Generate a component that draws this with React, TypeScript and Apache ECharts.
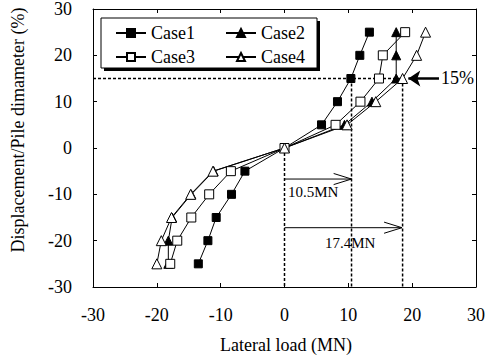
import React, { useEffect, useRef } from "react";
import * as echarts from "echarts";

// Displacement / pile diameter (%) levels, shared by every case
const displacementLevels = [-25, -20, -15, -10, -5, 0, 5, 10, 15, 20, 25];
// Lateral load (MN) per case, one per displacement level
const case1Load = [-13.5, -12.0, -10.7, -8.3, -6.2, 0, 5.8, 8.3, 10.4, 11.8, 13.3];
const case2Load = [-18.2, -18.2, -17.6, -14.6, -11.1, 0, 9.4, 13.7, 17.5, 17.5, 17.5];
const case3Load = [-17.9, -16.8, -14.6, -11.8, -8.4, 0, 8.0, 11.9, 14.8, 15.4, 18.9];
const case4Load = [-20.0, -19.3, -17.7, -14.7, -11.2, 0, 9.8, 14.3, 18.5, 20.7, 22.1];

// Reference (dashed) lines
const refLine15 = [[-30, 15], [18.5, 15]];
const refVertZero = [[0, 0], [0, -30]];
const refVert105 = [[10.5, 15], [10.5, -30]];
const refVert174 = [[18.5, 15], [18.5, -30]];

// Annotation arrows
const arrow105Shaft = [[0, -6.7], [10.5, -6.7]];
const arrow105Head = [[7.7, -5.5], [10.5, -6.7], [7.7, -7.9]];
const arrow174Shaft = [[0, -17.2], [18.4, -17.2]];
const arrow174Head = [[15.6, -16.0], [18.4, -17.2], [15.6, -18.4]];
const arrow15 = [[24.2, 15], [19.4, 15]];

const FONT = "Liberation Serif";

function caseSeries(name: string, loads: number[], symbol: string, filled: boolean, size: number) {
  return {
    name,
    type: "line",
    data: loads.map((x, i) => [x, displacementLevels[i]]),
    symbol,
    symbolSize: size,
    showSymbol: true,
    itemStyle: { color: filled ? "#000" : "#fff", borderColor: "#000", borderWidth: 1 },
    lineStyle: { color: "#000", width: 1 },
    z: 5,
  };
}

function plainLine(data: number[][], dashed: boolean, width: number) {
  return {
    type: "line",
    data,
    symbol: "none",
    silent: true,
    lineStyle: { color: "#000", width, type: dashed ? [3, 2] : "solid" },
    z: 3,
  };
}

export default function App() {
  const ref = useRef<HTMLDivElement>(null);
  useEffect(() => {
    if (!ref.current) return;
    const chart = echarts.init(ref.current, undefined, { renderer: "svg" });
    const labelStyle = { fontFamily: FONT, fontSize: 18, color: "#000" };
    const axisCommon = {
      type: "value",
      min: -30,
      max: 30,
      interval: 10,
      axisLine: { show: true, onZero: false, lineStyle: { color: "#000", width: 1 } },
      axisTick: { show: true, inside: true, length: 4, lineStyle: { color: "#000" } },
      splitLine: { show: false },
    };
    const legendCommon = {
      left: 115,
      padding: 0,
      itemWidth: 30,
      itemHeight: 10,
      itemGap: 30,
      textStyle: { ...labelStyle },
      selectedMode: false,
    };
    chart.setOption({
      animation: false,
      backgroundColor: "#fff",
      textStyle: { fontFamily: FONT },
      grid: { left: 93, right: 13, top: 6, bottom: 73 },
      xAxis: [
        { ...axisCommon, position: "bottom", axisLabel: { ...labelStyle, margin: 19 } },
        { ...axisCommon, position: "top", axisLabel: { show: false } },
      ],
      yAxis: [
        { ...axisCommon, position: "left", axisLabel: { ...labelStyle, margin: 21 } },
        { ...axisCommon, position: "right", axisLabel: { show: false } },
      ],
      legend: [
        { ...legendCommon, top: 24, data: ["Case1", "Case2"] },
        { ...legendCommon, top: 48, data: ["Case3", "Case4"] },
      ],
      graphic: [
        { type: "rect", shape: { x: 104, y: 21, width: 216, height: 50 }, style: { fill: "#000" }, z: 0 },
        { type: "rect", shape: { x: 101, y: 18, width: 216, height: 50 }, style: { fill: "#fff", stroke: "#000", lineWidth: 1 }, z: 1 },
        {
          type: "text",
          x: 18,
          y: 130,
          rotation: Math.PI / 2,
          style: { text: "Displacement/Pile dimameter (%)", font: `18px ${FONT}`, fill: "#000", textAlign: "center", textVerticalAlign: "middle" },
        },
        {
          type: "text",
          x: 286,
          y: 345,
          style: { text: "Lateral load (MN)", font: `18px ${FONT}`, fill: "#000", textAlign: "center", textVerticalAlign: "middle" },
        },
        {
          type: "text",
          x: 288,
          y: 192,
          style: { text: "10.5MN", font: `15px ${FONT}`, fill: "#000", textAlign: "left", textVerticalAlign: "middle" },
        },
        {
          type: "text",
          x: 325,
          y: 243,
          style: { text: "17.4MN", font: `15px ${FONT}`, fill: "#000", textAlign: "left", textVerticalAlign: "middle" },
        },
        {
          type: "text",
          x: 441,
          y: 78,
          style: { text: "15%", font: `18px ${FONT}`, fill: "#000", textAlign: "left", textVerticalAlign: "middle" },
        },
      ],
      series: [
        plainLine(refLine15, true, 1.5),
        plainLine(refVertZero, true, 1.5),
        plainLine(refVert105, true, 1.5),
        plainLine(refVert174, true, 1.5),
        plainLine(arrow105Shaft, false, 1),
        plainLine(arrow105Head, false, 1),
        plainLine(arrow174Shaft, false, 1),
        plainLine(arrow174Head, false, 1),
        {
          type: "lines",
          coordinateSystem: "cartesian2d",
          silent: true,
          symbol: ["none", "arrow"],
          symbolSize: 12,
          lineStyle: { color: "#000", width: 2.5, curveness: 0, opacity: 1 },
          data: [{ coords: arrow15 }],
          z: 4,
        },
        caseSeries("Case1", case1Load, "rect", true, 8),
        caseSeries("Case2", case2Load, "triangle", true, 9),
        caseSeries("Case3", case3Load, "rect", false, 9),
        caseSeries("Case4", case4Load, "triangle", false, 10),
      ],
    });
    return () => chart.dispose();
  }, []);
  return (
    <div
      ref={ref}
      style={{ position: "fixed", left: 0, top: 0, width: 489, height: 360, background: "#fff" }}
    />
  );
}
